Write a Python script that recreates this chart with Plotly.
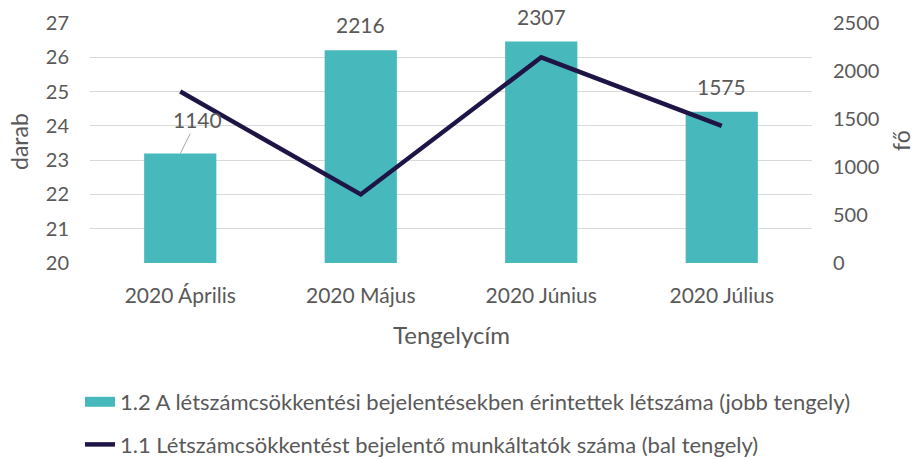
import plotly.graph_objects as go

categories = ["2020 Április", "2020 Május", "2020 Június", "2020 Július"]
bar_values = [1140, 2216, 2307, 1575]
line_values = [25, 22, 26, 24]
bar_name = "1.2 A létszámcsökkentési bejelentésekben érintettek létszáma (jobb tengely)"
line_name = "1.1 Létszámcsökkentést bejelentő munkáltatók száma (bal tengely)"
left_ticks = [20, 21, 22, 23, 24, 25, 26, 27]
right_ticks = [0, 500, 1000, 1500, 2000, 2500]

FONT = "Lato"
TXT = "#595959"
BAR_C = "#47B9BC"
LINE_C = "#1F1446"
W, H = 918, 459
L, R, T, B = 90, 106, 23, 196
PW, PH = W - L - R, H - T - B


def px_x(px):
    return (px - L) / PW


def px_y(py):
    return (H - B - py) / PH


fig = go.Figure()
# invisible trace on primary (left) axis: carries the grid / left ticks
fig.add_trace(go.Scatter(x=categories, y=line_values, yaxis="y", mode="lines",
                         line=dict(width=0, color="rgba(0,0,0,0)"),
                         showlegend=False, hoverinfo="skip"))
fig.add_trace(go.Bar(
    x=categories, y=bar_values, name=bar_name, yaxis="y2",
    marker=dict(color=BAR_C, line=dict(width=0)), width=0.4,
    showlegend=False,
))
fig.add_trace(go.Scatter(
    x=categories, y=line_values, name=line_name, yaxis="y3",
    mode="lines", line=dict(color=LINE_C, width=4.5),
    showlegend=False,
))
# legend entries
fig.add_trace(go.Scatter(x=[None], y=[None], yaxis="y3", mode="lines",
                         name=bar_name, line=dict(color=BAR_C, width=14),
                         legendgroup="a"))
fig.add_trace(go.Scatter(x=[None], y=[None], yaxis="y3", mode="lines",
                         name=line_name, line=dict(color=LINE_C, width=4.5),
                         legendgroup="b"))

annotations = []
for i, (c, v) in enumerate(zip(categories, bar_values)):
    if i == 0:
        annotations.append(dict(
            x=c, y=v, xref="x", yref="y2", text=str(v),
            showarrow=True, arrowhead=0, arrowwidth=1, arrowcolor="#A6A6A6",
            ax=17, ay=-34, font=dict(family=FONT, size=21, color=TXT),
        ))
    else:
        annotations.append(dict(
            x=c, y=v, xref="x", yref="y2", text=str(v),
            showarrow=False, yanchor="bottom", yshift=11,
            font=dict(family=FONT, size=21, color=TXT),
        ))

# axis titles as annotations
annotations += [
    dict(text="Tengelycím", x=px_x(451), y=px_y(334), xref="paper", yref="paper",
         showarrow=False, xanchor="center", yanchor="middle",
         font=dict(family=FONT, size=24, color=TXT)),
    dict(text="darab", x=px_x(19), y=px_y(142), xref="paper", yref="paper",
         showarrow=False, xanchor="center", yanchor="middle", textangle=-90,
         font=dict(family=FONT, size=23, color=TXT)),
    dict(text="fő", x=px_x(901), y=px_y(141), xref="paper", yref="paper",
         showarrow=False, xanchor="center", yanchor="middle", textangle=-90,
         font=dict(family=FONT, size=23, color=TXT)),
]

fig.update_layout(
    width=W, height=H,
    margin=dict(l=L, r=R, t=T, b=B, autoexpand=False),
    paper_bgcolor="white", plot_bgcolor="white",
    font=dict(family=FONT, size=21, color=TXT),
    bargap=0.6,
    showlegend=True,
    xaxis=dict(
        type="category", showgrid=False, showline=False, ticks="",
        tickfont=dict(size=21, color=TXT), ticklabelstandoff=18,
        automargin=False,
    ),
    yaxis=dict(
        range=[20, 27], tickvals=left_ticks, showgrid=True, gridcolor="#D9D9D9",
        gridwidth=1.3, zeroline=False, showline=False, ticks="",
        tickfont=dict(size=20, color=TXT), ticklabelstandoff=20,
        automargin=False,
    ),
    yaxis2=dict(
        range=[0, 2500], tickvals=right_ticks, overlaying="y", side="right",
        showgrid=False, zeroline=False, showline=False, ticks="",
        tickfont=dict(size=20, color=TXT), ticklabelstandoff=20,
        automargin=False,
    ),
    yaxis3=dict(
        range=[20, 27], overlaying="y", side="left", showgrid=False,
        zeroline=False, showline=False, showticklabels=False, ticks="",
        automargin=False,
    ),
    legend=dict(
        orientation="v", x=80 / W, y=1 - 381 / H, xref="container", yref="container",
        xanchor="left", yanchor="top",
        traceorder="grouped", tracegroupgap=11,
        font=dict(family=FONT, size=22, color=TXT),
        bgcolor="rgba(0,0,0,0)",
    ),
    annotations=annotations,
)
fig.write_html("out.html", config={"displayModeBar": False},
               post_script="document.body.style.margin='0';")
